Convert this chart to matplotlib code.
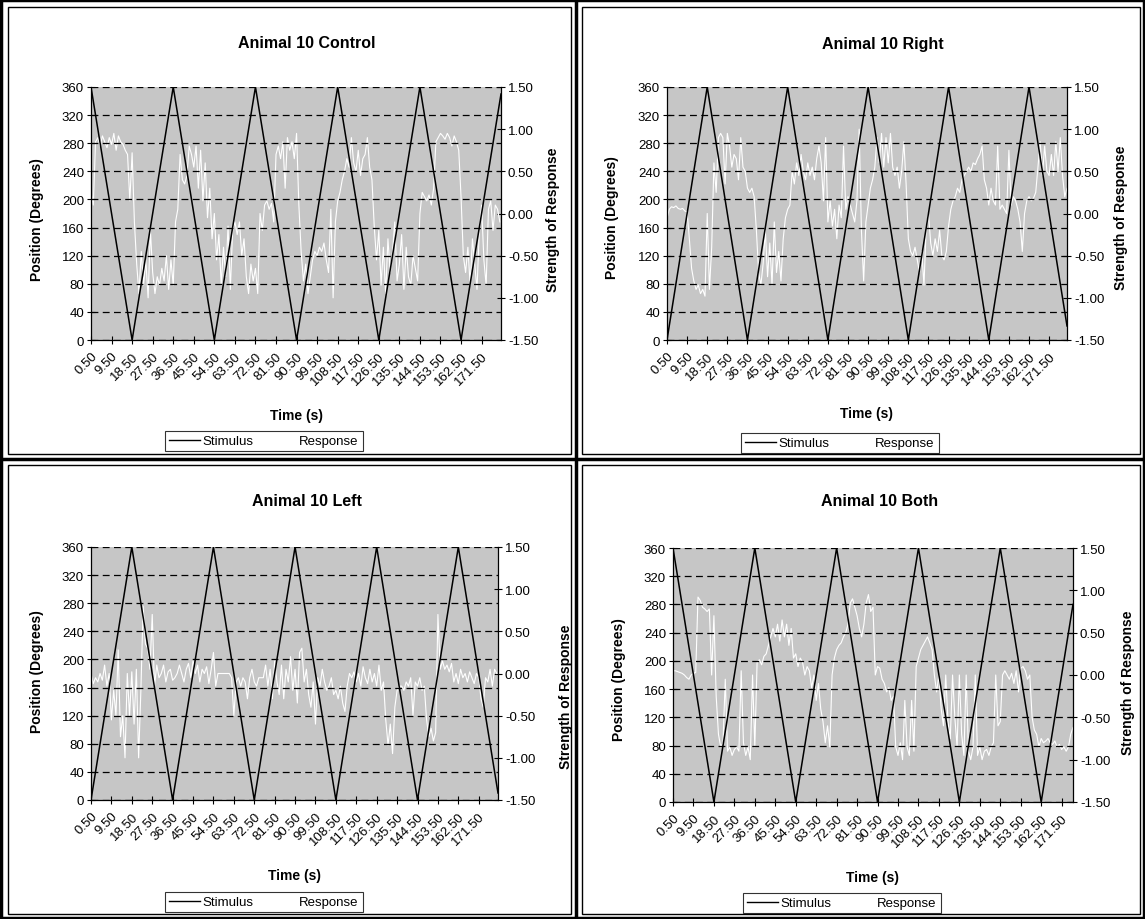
import matplotlib
matplotlib.use("Agg")
import matplotlib.pyplot as plt
from matplotlib.patches import Rectangle
from matplotlib.lines import Line2D

plt.rcParams['font.family'] = ['Liberation Sans', 'DejaVu Sans']

# ---- data ----
tick_times = [0.5 + 9 * k for k in range(20)]
tick_labels = ['%.2f' % t for t in tick_times]

# stimulus turning points (time s, position deg)
control_stim_t = [0.5, 18.5, 36.5, 54.5, 72.5, 90.5, 108.5, 126.5, 144.5, 162.5, 180.0]
control_stim = [360, 0, 360, 0, 360, 0, 360, 0, 360, 0, 350]
right_stim_t = [0.5, 18.5, 36.5, 54.5, 72.5, 90.5, 108.5, 126.5, 144.5, 162.5, 179.5]
right_stim = [0, 360, 0, 360, 0, 360, 0, 360, 0, 360, 20]
left_stim_t = [0.5, 18.5, 36.5, 54.5, 72.5, 90.5, 108.5, 126.5, 144.5, 162.5, 180.0]
left_stim = [0, 360, 0, 360, 0, 360, 0, 360, 0, 360, 10]
both_stim_t = [0.5, 18.5, 36.5, 54.5, 72.5, 90.5, 108.5, 126.5, 144.5, 162.5, 176.5]
both_stim = [360, 0, 360, 0, 360, 0, 360, 0, 360, 0, 280]

# response strength, one reading per second starting at 0.5 s
control_resp = [
    0.25, 0.10, 0.85, 0.90, 0.80, 0.92, 0.85, 0.78, 0.90, 0.82,
    0.95, 0.75, 0.92, 0.85, 0.82, 0.75, 0.70, 0.15, 0.72, -0.10,
    -0.60, -0.95, -0.45, -0.85, -0.55, -1.00, -0.20, -0.70, -0.95, -0.75,
    -0.85, -0.65, -0.80, -0.50, -0.90, -0.55, -0.85, -0.10, 0.05, 0.70,
    0.40, 0.35, 0.45, 0.80, 0.70, 0.55, 0.80, 0.30, 0.75, 0.15,
    0.60, -0.05, 0.30, -0.30, 0.00, -0.55, -0.25, -0.85, -0.40, -0.75,
    -0.15, -0.90, -0.20, -0.10, -0.25, -0.10, -0.50, -0.30, -0.75, -0.95,
    -0.60, -0.80, -0.65, -0.95, 0.00, -0.20, 0.10, 0.15, 0.05, 0.12,
    -0.10, 0.70, 0.80, 0.65, 0.85, 0.30, 0.90, 0.75, 0.85, 0.65,
    0.95, 0.10, -0.45, -0.80, -0.60, -0.95, -0.75, -0.55, -0.45, -0.50,
    -0.40, -0.45, -0.35, -0.55, -0.70, 0.05, -1.00, -0.10, 0.15, 0.25,
    0.40, 0.50, 0.65, 0.55, 0.90, 0.60, 0.50, 0.75, 0.45, 0.65,
    0.70, 0.90, 0.55, 0.40, -0.15, -0.55, -0.20, -0.85, -0.40, -0.95,
    -0.30, -0.70, -0.45, -0.10, -0.80, -0.60, -0.25, -0.90, -0.40, -0.75,
    -0.85, -0.50, -0.65, -0.80, 0.00, 0.25, 0.20, 0.15, 0.22, 0.10,
    0.30, 0.85, 0.90, 0.95, 0.92, 0.88, 0.95, 0.90, 0.80, 0.92,
    0.85, 0.75, 0.20, -0.50, -0.70, -0.40, -0.85, -0.30, -0.60, -0.90,
    -0.20, 0.10, -0.55, -0.85, 0.05, 0.15, -0.20, 0.10, 0.05, -0.10,
]
right_resp = [
    -0.06, 0.05, 0.08, 0.07, 0.09, 0.06, 0.05, 0.06, 0.03, 0.02,
    -0.30, -0.65, -0.80, -0.90, -0.85, -0.95, -0.90, -0.98, 0.00, -0.90,
    -0.40, 0.60, 0.25, 0.90, 0.95, 0.90, 0.35, 0.95, 0.80, 0.55,
    0.70, 0.65, 0.40, 0.90, 0.55, 0.50, 0.30, 0.25, 0.30, 0.20,
    -0.20, -0.70, -0.85, -0.60, -0.20, -0.75, -0.35, -0.85, -0.10, -0.70,
    -0.45, -0.80, -0.30, -0.05, 0.05, 0.10, 0.50, 0.35, 0.60, 0.45,
    0.70, 0.50, 0.40, 0.60, 0.45, 0.55, 0.40, 0.65, 0.80, 0.60,
    0.15, 0.90, -0.10, 0.15, -0.15, 0.05, -0.30, 0.10, -0.05, 0.80,
    0.05, 0.20, 0.10, 0.00, -0.10, 0.15, 1.00, -0.20, -0.80, -0.10,
    0.10, 0.30, 0.40, 0.55, 0.90, 0.60, 0.95, 0.55, 0.90, 0.60,
    0.95, 0.55, 0.45, 0.55, 0.30, 0.50, 0.85, 0.35, -0.30, -0.45,
    -0.50, -0.40, -0.55, -0.70, -0.45, -0.85, -0.15, 0.00, -0.35, -0.50,
    -0.30, -0.45, -0.20, -0.50, -0.55, -0.45, -0.15, 0.05, 0.15, 0.20,
    0.30, 0.25, 0.40, 0.45, 0.50, 0.55, 0.50, 0.60, 0.58, 0.65,
    0.70, 0.80, 0.40, 0.30, 0.10, 0.30, 0.15, 0.10, 0.80, 0.05,
    0.10, 0.05, 0.00, 0.75, 0.10, 0.20, 0.15, 0.05, -0.10, -0.45,
    0.00, 0.15, 0.20, 0.15, 0.18, 0.25, 0.55, 0.85, 0.45, 0.80,
    0.50, 0.45, 0.70, 0.45, 0.85, 0.50, 0.90, 0.45, 0.20, 0.30,
]
left_resp = [
    0.00, -0.12, -0.05, -0.10, 0.00, -0.08, 0.10, -0.15, 0.00, -0.55,
    -0.20, -0.50, 0.28, -0.75, -0.50, -1.00, 0.00, -0.50, 0.02, -0.60,
    0.05, -1.00, -0.20, 0.80, 0.35, 0.30, 0.05, 0.70, -0.15, 0.10,
    -0.05, 0.00, 0.10, -0.10, 0.02, 0.05, -0.08, -0.05, 0.00, 0.10,
    0.00, -0.10, 0.05, 0.12, -0.05, 0.15, 0.00, 0.10, -0.10, 0.05,
    0.00, 0.08, -0.12, 0.05, 0.25, -0.15, 0.00, 0.00, 0.00, 0.00,
    0.00, 0.00, -0.05, -0.50, -0.10, -0.05, -0.15, -0.05, -0.10, -0.30,
    -0.05, 0.05, -0.10, -0.15, -0.05, -0.05, -0.05, 0.10, -0.15, 0.05,
    -0.30, 0.15, -0.10, -0.25, 0.10, -0.30, 0.05, -0.10, 0.20, -0.20,
    0.05, -0.35, 0.25, 0.30, -0.10, 0.05, -0.25, -0.40, -0.10, -0.60,
    -0.05, -0.15, 0.05, -0.10, -0.20, -0.15, -0.05, -0.25, -0.20, -0.30,
    -0.15, -0.35, -0.45, -0.15, 0.00, -0.05, 0.02, -0.10, 0.00, -0.15,
    0.08, -0.05, -0.12, 0.05, -0.10, 0.00, -0.15, 0.10, -0.20, -0.10,
    -0.55, -0.85, -0.60, -0.95, -0.40, -0.20, -0.15, -0.15, -0.20, -0.10,
    -0.15, -0.05, -0.50, -0.10, -0.15, -0.05, -0.20, -0.15, -0.55, -0.75,
    -0.65, -0.80, -0.70, 0.70, 0.05, 0.15, 0.05, 0.10, 0.02, 0.12,
    -0.10, 0.00, -0.12, 0.05, -0.05, 0.00, -0.10, 0.02, -0.05, -0.12,
    0.00, -0.05, -0.30, -0.40, -0.05, -0.10, 0.05, -0.15, 0.05, 0.00,
]
both_resp = [
    0.05, 0.05, 0.04, 0.03, 0.02, 0.00, -0.03, -0.05, 0.00, 0.02,
    0.03, 0.92, 0.88, 0.80, 0.78, 0.75, 0.78, 0.00, 0.70, -0.25,
    -0.70, -0.85, -0.80, -0.05, -0.90, -0.85, -0.95, -0.88, -0.85, -0.90,
    0.05, -0.80, -0.95, -0.85, -1.00, 0.00, -0.85, 0.15, 0.18, 0.12,
    0.22, 0.25, 0.35, 0.45, 0.55, 0.45, 0.60, 0.40, 0.65, 0.45,
    0.60, 0.35, 0.55, 0.20, 0.25, 0.10, 0.20, 0.15, 0.00, 0.10,
    0.05, -0.15, 0.00, -0.30, -0.10, -0.40, -0.55, -0.80, -0.60, -0.85,
    0.00, 0.20, 0.30, 0.35, 0.38, 0.45, 0.50, 0.60, 0.85, 0.90,
    0.80, 0.70, 0.55, 0.45, 0.60, 0.85, 0.95, 0.75, 0.80, 0.00,
    0.10, 0.08, -0.05, -0.10, -0.20, -0.15, -0.30, -0.25, -0.85, -0.95,
    -0.80, -1.00, -0.30, -0.85, -0.95, -0.30, -0.90, 0.10, 0.20, 0.30,
    0.35, 0.40, 0.45, 0.38, 0.30, 0.00, -0.20, 0.00, -0.40, -0.60,
    0.00, -0.55, -0.75, 0.00, -0.50, -0.85, 0.00, -0.70, -0.95, 0.00,
    -0.90, -1.00, -0.85, 0.00, -0.95, -0.85, -1.00, -0.90, -0.88, -0.95,
    -0.85, -0.80, 0.00, -0.60, -0.55, 0.00, 0.05, 0.00, -0.05, 0.02,
    -0.10, 0.05, -0.20, 0.08, 0.10, 0.05, -0.05, 0.00, -0.50, -0.65,
    -0.70, -0.85, -0.75, -0.80, -0.78, -0.75, -0.80, -0.82, -0.78, -0.85,
    -0.82, -0.88, -0.85, -0.90, -0.85, -0.70, -0.62,
]

W, H = 1145, 920
fig = plt.figure(figsize=(W / 100, H / 100), dpi=100)


def fx(x):
    return x / W


def fy(y):
    return 1 - y / H


def panel(title, stim_t, stim, resp, box, t_end, pos):
    l, t, r, b = box
    ax = fig.add_axes([fx(l), fy(b), (r - l) / W, (b - t) / H])
    ax2 = ax.twinx()
    ax.set_zorder(ax2.get_zorder() + 1)
    ax.patch.set_visible(False)
    ax2.patch.set_visible(True)
    ax2.set_facecolor('#c6c6c6')

    resp_t = [0.5 + i for i in range(len(resp))]
    ax2.plot(resp_t, resp, color='white', lw=0.8)
    ax.plot(stim_t, stim, color='black', lw=1.1)

    ax.set_xlim(0.5, t_end)
    ax.set_ylim(0, 360)
    ax2.set_ylim(-1.5, 1.5)
    ax.set_yticks(range(0, 361, 40))
    ax2.set_yticks([-1.5, -1.0, -0.5, 0, 0.5, 1.0, 1.5])
    ax2.set_yticklabels(['%.2f' % v for v in [-1.5, -1.0, -0.5, 0, 0.5, 1.0, 1.5]])
    ax.set_xticks(tick_times)
    ax.set_xticklabels(tick_labels, rotation=45, ha='right', rotation_mode='anchor')
    ax.yaxis.grid(True, color='black', ls=(0, (5.5, 3.5)), lw=0.9)

    for a in (ax, ax2):
        a.tick_params(direction='inout', length=6, width=0.8, labelsize=9.5, pad=2)
        a.spines['top'].set_visible(False)
        for s in a.spines.values():
            s.set_linewidth(0.9)
    ax.tick_params(axis='x', pad=4)
    ax.spines['right'].set_visible(False)
    ax2.spines['left'].set_visible(False)
    ax2.spines['bottom'].set_visible(False)

    fig.text(fx(pos['title'][0]), fy(pos['title'][1]), title, ha='center', va='center',
             fontsize=11.5, fontweight='bold')
    fig.text(fx(pos['yl'][0]), fy(pos['yl'][1]), 'Position (Degrees)', rotation=90,
             ha='center', va='center', fontsize=10, fontweight='bold')
    fig.text(fx(pos['yr'][0]), fy(pos['yr'][1]), 'Strength of Response', rotation=90,
             ha='center', va='center', fontsize=10, fontweight='bold')
    fig.text(fx(pos['xl'][0]), fy(pos['xl'][1]), 'Time (s)', ha='center', va='center',
             fontsize=10, fontweight='bold')

    handles = [Line2D([], [], color='black', lw=1.0), Line2D([], [], color='white', lw=1.0)]
    leg = fig.legend(handles, ['Stimulus', 'Response'], loc='center',
                     bbox_to_anchor=(fx(pos['leg'][0]), fy(pos['leg'][1])),
                     ncol=2, frameon=True, fancybox=False, edgecolor='black',
                     fontsize=9.5, handlelength=2.3, columnspacing=0.9,
                     borderpad=0.3, handletextpad=0.25, borderaxespad=0)
    leg.get_frame().set_linewidth(0.8)


panel('Animal 10 Control', control_stim_t, control_stim, control_resp,
      (91, 88, 501, 341), 180.0,
      dict(title=(307, 44), yl=(37, 220), yr=(553, 220), xl=(296, 416), leg=(264, 442)))
panel('Animal 10 Right', right_stim_t, right_stim, right_resp,
      (667, 88, 1067, 341), 179.5,
      dict(title=(883, 44), yl=(612, 218), yr=(1121, 218), xl=(866, 414), leg=(840, 444)))
panel('Animal 10 Left', left_stim_t, left_stim, left_resp,
      (91, 548, 498, 801), 180.0,
      dict(title=(307, 502), yl=(37, 672), yr=(566, 697), xl=(294, 876), leg=(264, 903)))
panel('Animal 10 Both', both_stim_t, both_stim, both_resp,
      (673, 549, 1073, 803), 176.5,
      dict(title=(880, 502), yl=(619, 680), yr=(1128, 683), xl=(873, 878), leg=(842, 904)))

# page borders (table cells + chart areas)
def frame(x0, y0, x1, y1, lw):
    fig.add_artist(Rectangle((fx(x0), fy(y1)), (x1 - x0) / W, (y1 - y0) / H,
                             transform=fig.transFigure, fill=False,
                             edgecolor='black', lw=lw))


frame(1, 1, 1144, 919, 2.5)
frame(8, 8, 571, 455, 1.0)
frame(582, 8, 1140, 455, 1.0)
frame(8, 466, 571, 915, 1.0)
frame(582, 466, 1140, 915, 1.0)
fig.add_artist(Line2D([fx(576), fx(576)], [0, 1], transform=fig.transFigure, color='black', lw=2.5))
fig.add_artist(Line2D([0, 1], [fy(460), fy(460)], transform=fig.transFigure, color='black', lw=2.5))

fig.savefig('out.png', dpi=100)
